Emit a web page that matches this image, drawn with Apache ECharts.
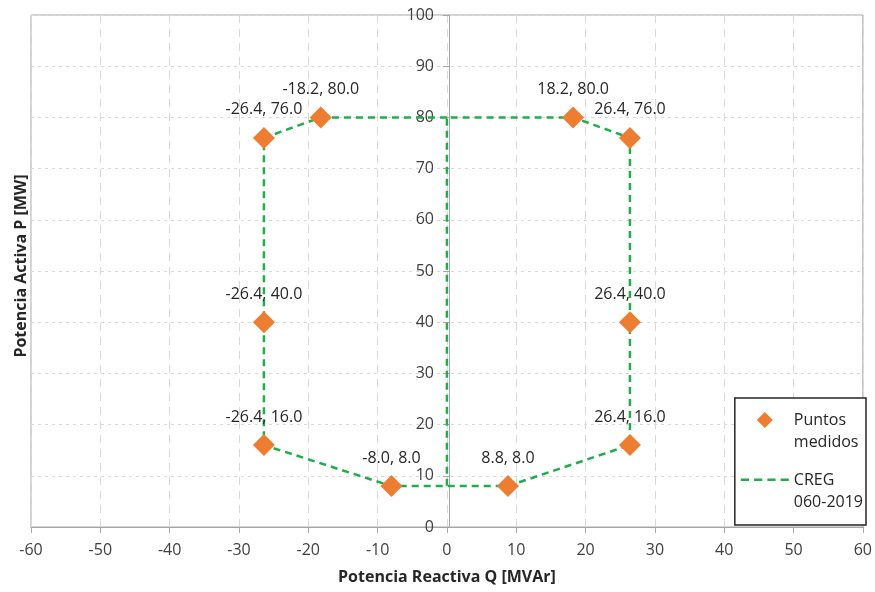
<!DOCTYPE html>
<html>
<head>
<meta charset="utf-8">
<script src="https://cdn.jsdelivr.net/npm/echarts@6/dist/echarts.min.js"></script>
<style>html,body{margin:0;padding:0;background:#fff}#c{width:875px;height:592px}</style>
</head>
<body>
<div id="c"></div>
<script>
const pointsQ = [-26.4, -18.2, 18.2, 26.4, -26.4, 26.4, -26.4, 26.4, -8.0, 8.8];
const pointsP = [76.0, 80.0, 80.0, 76.0, 40.0, 40.0, 16.0, 16.0, 8.0, 8.0];
const cregQ = [0, -18.2, -26.4, -26.4, -26.4, -8.0, 0, 8.8, 26.4, 26.4, 26.4, 18.2, 0, 0];
const cregP = [80, 80, 76, 40, 16, 8, 8, 8, 16, 40, 76, 80, 80, 8];
const xTicks = [-60, 60, 10];
const yTicks = [0, 100, 10];
const xName = 'Potencia Reactiva Q [MVAr]';
const yName = 'Potencia Activa P [MW]';
const seriesNames = ['Puntos\nmedidos', 'CREG\n060-2019'];

const font = '"Open Sans", "Liberation Sans", sans-serif';
const chart = echarts.init(document.getElementById('c'));
chart.setOption({
  animation: false,
  backgroundColor: '#fff',
  grid: { left: 31, right: 9, top: 15, bottom: 65, show: true, borderColor: '#a6a6a6', borderWidth: 1 },
  xAxis: {
    type: 'value', min: xTicks[0], max: xTicks[1], interval: xTicks[2],
    name: xName, nameLocation: 'middle', nameGap: 42,
    nameTextStyle: { fontFamily: font, fontWeight: 'bold', fontSize: 16, color: '#262626' },
    axisLine: { onZero: false, lineStyle: { color: '#a6a6a6' } },
    axisTick: { show: true, length: 6, lineStyle: { color: '#a6a6a6' } },
    axisLabel: { fontFamily: font, fontSize: 16, color: '#404040', margin: 15 },
    splitLine: { show: true, lineStyle: { color: '#d9d9d9', type: [8, 6] } }
  },
  yAxis: {
    type: 'value', min: yTicks[0], max: yTicks[1], interval: yTicks[2],
    offset: -418,
    axisLine: { onZero: false, lineStyle: { color: '#a6a6a6' } },
    axisTick: { show: true, length: 6, lineStyle: { color: '#a6a6a6' } },
    axisLabel: { fontFamily: font, fontSize: 16, color: '#404040', margin: 15 },
    splitLine: { show: true, lineStyle: { color: '#d9d9d9', type: [3, 4] } }
  },
  graphic: [{
    type: 'text', x: 21, y: 266, rotation: Math.PI / 2,
    style: { text: yName, font: 'bold 16px ' + font, fill: '#262626', align: 'center', verticalAlign: 'middle' }
  }],
  legend: {
    orient: 'vertical', right: 9, bottom: 67,
    backgroundColor: '#fff', borderColor: '#262626', borderWidth: 1.5,
    padding: [11, 3, 12, 6], itemGap: 16, itemWidth: 48, itemHeight: 38,
    selectedMode: false,
    textStyle: { fontFamily: font, fontSize: 16, color: '#262626', lineHeight: 22 },
    data: [
      { name: seriesNames[0], icon: 'path://M0,-1L1,0L0,1L-1,0ZM-0.001,3.75L0.001,3.75', itemStyle: { color: '#ED7D31', opacity: 1 } },
      { name: seriesNames[1], icon: 'path://M0,0h8v2.6h-8zM13,0h8v2.6h-8zM26,0h8v2.6h-8zM39,0h8v2.6h-8zM0,24.6L0.001,24.6', itemStyle: { color: '#1FAE4B' } }
    ]
  },
  series: [
    {
      name: seriesNames[1], type: 'line', data: cregQ.map((q, i) => [q, cregP[i]]),
      symbol: 'none', z: 2,
      lineStyle: { color: '#1FAE4B', width: 2.5, type: [7, 5] },
      itemStyle: { color: '#1FAE4B' }
    },
    {
      name: seriesNames[0], type: 'scatter', data: pointsQ.map((q, i) => [q, pointsP[i]]),
      symbol: 'diamond', symbolSize: 22, z: 3,
      itemStyle: { color: '#ED7D31', opacity: 1 },
      label: {
        show: true, position: 'top', distance: 9,
        fontFamily: font, fontSize: 16, color: '#262626',
        formatter: p => p.value[0].toFixed(1) + ', ' + p.value[1].toFixed(1)
      }
    }
  ]
});
</script>
</body>
</html>
